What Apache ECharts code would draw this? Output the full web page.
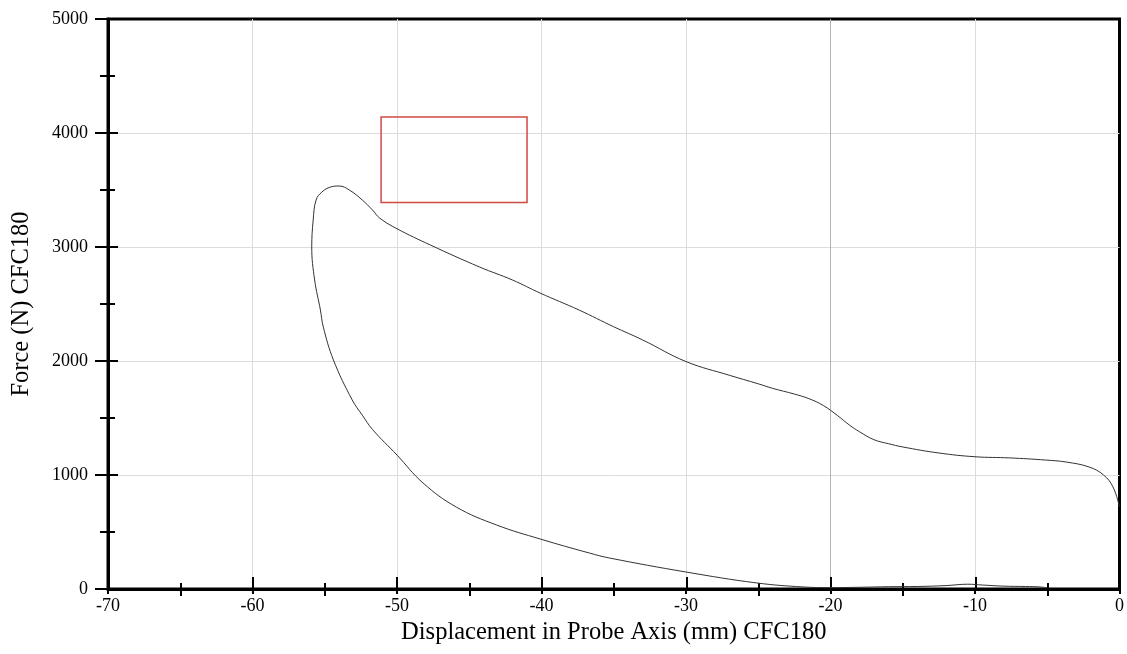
<!DOCTYPE html>
<html>
<head>
<meta charset="utf-8">
<script src="https://cdn.jsdelivr.net/npm/echarts@6/dist/echarts.min.js"></script>
<style>
  html, body { margin: 0; padding: 0; background: #fff; }
  #chart { width: 1127px; height: 654px; }
</style>
</head>
<body>
<div id="chart"></div>
<script>
  // loading path: from 0 mm out to the far left point
  var loadDisp = [0, -0.45, -1.1, -2.1, -3.7, -5.1, -7.6, -10, -12.5, -15, -16, -17, -18, -18.7, -19.5,
    -20.5, -21.5, -22.5, -24, -25, -27, -30, -33, -35, -37.4, -40.1, -42, -44.3, -47.7, -50, -51.2,
    -51.7, -52.4, -53.3, -54.0, -54.6, -55.2, -55.6, -55.8, -55.9]
  var loadForce = [720, 895, 1000, 1070, 1114, 1131, 1150, 1160, 1193, 1246, 1275, 1310, 1380, 1439, 1520,
    1610, 1670, 1710, 1760, 1800, 1875, 1995, 2185, 2300, 2447, 2596, 2710, 2825, 3018, 3160, 3254,
    3325, 3412, 3500, 3535, 3526, 3482, 3412, 3237, 3000]
  // unloading path: back towards -5 mm
  var unloadDisp = [-55.7, -55.3, -55.1, -54.4, -53.1, -52.4, -51.7, -50, -48.2, -45.9, -43.1, -40.1, -36.7,
    -35.3, -30, -25.1, -21.9, -20, -18, -16, -14, -12, -10.5, -9.5, -8, -6.5, -5.5, -5]
  var unloadForce = [2711, 2447, 2298, 2009, 1658, 1525, 1400, 1175, 930, 719, 561, 439, 316,
    272, 149, 53, 18, 12, 15, 20, 22, 30, 42, 35, 25, 22, 18, 10]
  // red annotation box [x1, y1, x2, y2]
  var boxCorners = [-51.1, 4140, -41.0, 3390]

  var xMin = -70, xMax = 0, xStep = 10
  var yMin = 0, yMax = 5000, yStep = 1000

  var points = []
  loadDisp.forEach(function (d, i) { points.push([d, loadForce[i]]) })
  unloadDisp.forEach(function (d, i) { points.push([d, unloadForce[i]]) })

  var font = 'Liberation Serif'
  var tickStyle = { color: '#000', width: 2 }
  var gridRect = { left: 108, right: 7, top: 19, bottom: 65 }
  var chart = echarts.init(document.getElementById('chart'))

  chart.setOption({
    animation: false,
    grid: [
      Object.assign({ show: true, borderColor: '#000', borderWidth: 3 }, gridRect),
      // second grid on top of the first only carries the inward tick marks
      Object.assign({ show: false }, gridRect)
    ],
    xAxis: [
      {
        type: 'value',
        gridIndex: 0,
        min: xMin,
        max: xMax,
        interval: xStep,
        name: 'Displacement in Probe Axis (mm) CFC180',
        nameLocation: 'middle',
        nameGap: 29,
        nameTextStyle: { fontFamily: font, fontSize: 24.5, color: '#000' },
        axisLine: { onZero: false, lineStyle: { color: '#000', width: 3 } },
        axisTick: { show: true, length: 5, lineStyle: tickStyle },
        minorTick: { show: true, splitNumber: 2, length: 7, lineStyle: tickStyle },
        axisLabel: { fontFamily: font, fontSize: 18, color: '#000', margin: 8 },
        splitLine: {
          show: true,
          showMinLine: false,
          showMaxLine: false,
          // -60 .. -10; the -20 line is a little darker
          lineStyle: { color: ['#dcdcdc', '#dcdcdc', '#dcdcdc', '#dcdcdc', '#b4b4b4', '#dcdcdc'], width: 1 }
        }
      },
      {
        type: 'value',
        gridIndex: 1,
        min: xMin,
        max: xMax,
        interval: xStep,
        axisLine: { show: false, onZero: false },
        axisTick: { show: true, inside: true, length: 12, lineStyle: tickStyle },
        minorTick: { show: true, splitNumber: 2, length: 6, lineStyle: tickStyle },
        axisLabel: { show: false },
        splitLine: { show: false }
      }
    ],
    yAxis: [
      {
        type: 'value',
        gridIndex: 0,
        min: yMin,
        max: yMax,
        interval: yStep,
        name: 'Force (N) CFC180',
        nameLocation: 'middle',
        nameGap: 74,
        nameTextStyle: { fontFamily: font, fontSize: 24.5, color: '#000' },
        axisLine: { show: true, onZero: false, lineStyle: { color: '#000', width: 3 } },
        axisTick: { show: true, length: 13, lineStyle: tickStyle },
        minorTick: { show: true, splitNumber: 2, length: 8, lineStyle: tickStyle },
        axisLabel: {
          fontFamily: font, fontSize: 18, color: '#000', margin: 20,
          formatter: function (v) { return String(v) }
        },
        splitLine: {
          show: true,
          showMinLine: false,
          showMaxLine: false,
          lineStyle: { color: '#dcdcdc', width: 1 }
        }
      },
      {
        type: 'value',
        gridIndex: 1,
        min: yMin,
        max: yMax,
        interval: yStep,
        axisLine: { show: false, onZero: false },
        axisTick: { show: true, inside: true, length: 10, lineStyle: tickStyle },
        minorTick: { show: true, splitNumber: 2, length: 7, lineStyle: tickStyle },
        axisLabel: { show: false },
        splitLine: { show: false }
      }
    ],
    series: [
      {
        type: 'line',
        xAxisIndex: 0,
        yAxisIndex: 0,
        data: points,
        showSymbol: false,
        smooth: 0.4,
        lineStyle: { color: '#333', width: 1 },
        markArea: {
          silent: true,
          itemStyle: { color: 'rgba(0,0,0,0)', borderColor: '#d04a45', borderWidth: 1.5 },
          data: [[{ coord: [boxCorners[0], boxCorners[1]] }, { coord: [boxCorners[2], boxCorners[3]] }]]
        }
      }
    ]
  })
</script>
</body>
</html>
